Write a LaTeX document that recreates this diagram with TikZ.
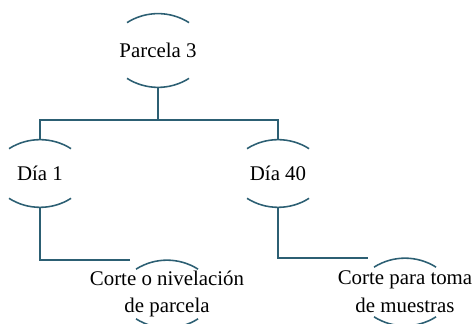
\documentclass[tikz,border=0pt]{standalone}
\usepackage{fontspec}
\setmainfont{Liberation Serif}
\definecolor{linea}{RGB}{44,95,115}
\tikzset{
	etapa/.style={inner sep=0pt,minimum width=36pt,minimum height=38.5pt,align=center,font=\fontsize{12}{16}\selectfont},
	tapa/.style={draw=linea,line width=0.9pt},
	rama/.style={draw=linea,line width=0.9pt}
}
\begin{document}
\begin{tikzpicture}[x=0.575pt,y=0.575pt]
		\useasboundingbox (0,0) rectangle (475,324);
		\node[etapa,name=p3,minimum height=42pt] at (158,273.5){Parcela 3};
		\node[etapa,name=d1] at (40,150.5){Día 1};
		\node[etapa,name=d40] at (278,150.5){Día 40};
		\node[etapa,name=c1] at (167,30){Corte o nivelación\\de parcela};
		\node[etapa,name=c2] at (405,32){Corte para toma\\de muestras};
		\foreach \n in {p3,d1,d40,c1,c2}{
			\draw[tapa] ([shift={(-31,-9)}]\n.north) arc[start angle=122.4,end angle=57.6,radius=57.9];
			\draw[tapa] ([shift={(-31,9)}]\n.south) arc[start angle=-122.4,end angle=-57.6,radius=57.9];
		}
		\coordinate (nudo) at (158,204);
		\draw[rama] (p3.south)--(nudo) -| (d1.north);
		\draw[rama] (nudo) -| (d40.north);
		\draw[rama] (d1.south) |- ([shift={(-37,0)}]c1.north);
		\draw[rama] (d40.south) |- ([shift={(-37,0)}]c2.north);
	\end{tikzpicture}
\end{document}
